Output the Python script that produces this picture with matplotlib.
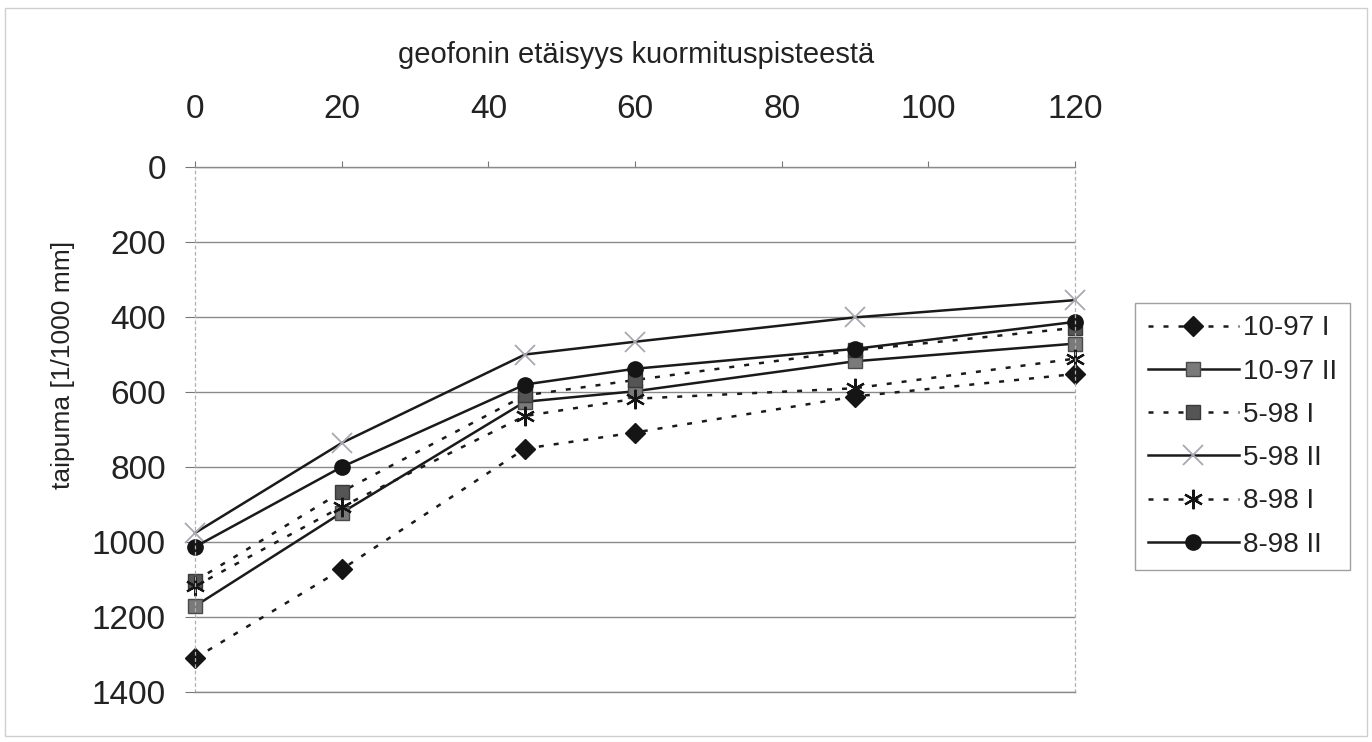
import matplotlib.pyplot as plt
import matplotlib.patches as mpatches

# geophone distance from loading point
distance = [0, 20, 45, 60, 90, 120]

# deflection [1/1000 mm] per measurement
d_10_97_I = [1310, 1073, 751, 708, 612, 552]
d_10_97_II = [1171, 922, 626, 598, 518, 471]
d_5_98_I = [1104, 866, 609, 568, 489, 429]
d_5_98_II = [976, 736, 500, 466, 401, 355]
d_8_98_I = [1118, 906, 664, 618, 590, 511]
d_8_98_II = [1013, 800, 580, 538, 485, 413]

labels = ["10-97 I", "10-97 II", "5-98 I", "5-98 II", "8-98 I", "8-98 II"]
x_ticks = [0, 20, 40, 60, 80, 100, 120]
y_ticks = [0, 200, 400, 600, 800, 1000, 1200, 1400]

plt.rcParams["font.family"] = ["Liberation Sans", "DejaVu Sans"]

W, H = 1372, 742
fig = plt.figure(figsize=(W / 100, H / 100), dpi=100)
ax = fig.add_axes([195 / W, 50 / H, 880 / W, 525 / H])

dash = (0, (2, 4))
styles = [
    dict(ls=dash, marker="D", ms=10, mfc="#151515", mec="#151515"),
    dict(ls="-", marker="s", ms=10.5, mfc="#7a7a7a", mec="#4a4a4a"),
    dict(ls=dash, marker="s", ms=10.5, mfc="#555555", mec="#3a3a3a"),
    dict(ls="-", marker="x", ms=14, mfc="none", mec="#a8a8b0", mew=1.3),
    dict(ls=dash, marker=(6, 2, 0), ms=14, mfc="none", mec="#151515", mew=1.6),
    dict(ls="-", marker="o", ms=11, mfc="#151515", mec="#151515"),
]
series = [d_10_97_I, d_10_97_II, d_5_98_I, d_5_98_II, d_8_98_I, d_8_98_II]

for vals, lab, st in zip(series, labels, styles):
    ax.plot(distance, vals, color="#1a1a1a", lw=1.8, label=lab, clip_on=False, **st)

ax.set_xlim(0, 120)
ax.set_ylim(1400, 0)
ax.xaxis.tick_top()
ax.set_xticks(x_ticks)
ax.set_yticks(y_ticks)
ax.tick_params(axis="x", direction="out", length=4, color="#777777",
               labelsize=24, pad=26, labelcolor="#222222")
ax.tick_params(axis="y", direction="out", length=7, color="#777777",
               labelsize=24, pad=14, labelcolor="#222222")

ax.grid(axis="y", color="#8a8a8a", lw=1.0)
for side in ["top", "bottom"]:
    ax.spines[side].set_color("#8a8a8a")
    ax.spines[side].set_linewidth(1.0)
for side in ["left", "right"]:
    ax.spines[side].set_color("#b0b0b0")
    ax.spines[side].set_linestyle((0, (2, 3)))
    ax.spines[side].set_linewidth(0.9)
ax.set_axisbelow(True)

fig.text(636 / W, 1 - 55 / H, "geofonin etäisyys kuormituspisteestä",
         ha="center", va="center", fontsize=21, color="#222222")
fig.text(63 / W, 1 - 365 / H, "taipuma [1/1000 mm]", rotation=90,
         ha="center", va="center", fontsize=19, color="#222222")

leg = fig.legend(loc="upper left", bbox_to_anchor=(1135 / W, 1 - 303 / H),
                 fontsize=20, frameon=True, fancybox=False, edgecolor="#888888",
                 handlelength=3.3, handletextpad=0.15, labelspacing=0.62,
                 borderpad=0.45, borderaxespad=0, numpoints=1)
leg.get_frame().set_linewidth(1.0)
for t in leg.get_texts():
    t.set_color("#222222")

# faint chart-area border
fig.patches.append(mpatches.Rectangle((5 / W, 6 / H), 1 - 10 / W, 1 - 14 / H,
                                      transform=fig.transFigure, fill=False,
                                      edgecolor="#cfcfcf", lw=1.0))

fig.savefig("out.png", dpi=100)
